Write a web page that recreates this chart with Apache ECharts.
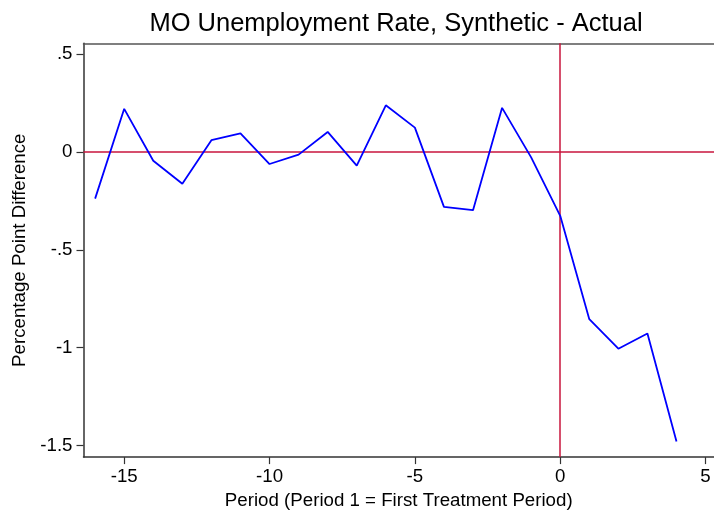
<!DOCTYPE html>
<html>
<head>
<meta charset="utf-8">
<script src="https://cdn.jsdelivr.net/npm/echarts@6/dist/echarts.min.js"></script>
<style>html,body{margin:0;padding:0;background:#fff;}#c{width:714px;height:515px;}</style>
</head>
<body>
<div id="c"></div>
<script>
const periods = [-16,-15,-14,-13,-12,-11,-10,-9,-8,-7,-6,-5,-4,-3,-2,-1,0,1,2,3,4];
const gapValues = [-0.238,0.221,-0.044,-0.162,0.061,0.095,-0.061,-0.013,0.103,-0.069,0.239,0.125,-0.280,-0.297,0.226,-0.027,-0.326,-0.854,-1.005,-0.927,-1.479];
const xTicks = [-15,-10,-5,0,5];
const yTicks = [0.5,0,-0.5,-1,-1.5];
const yTickLabels = ['.5','0','-.5','-1','-1.5'];
const titleText = 'MO Unemployment Rate, Synthetic - Actual';
const xTitle = 'Period (Period 1 = First Treatment Period)';
const yTitle = 'Percentage Point Difference';

const font = '"Liberation Sans", Arial, Helvetica, sans-serif';
const axisColor = '#333333';
const red = '#c8143c';

const chart = echarts.init(document.getElementById('c'), null, {renderer:'canvas'});
chart.setOption({
  animation: false,
  title: {
    text: titleText, left: 391, top: 6, textAlign: 'center',
    textStyle: {fontFamily: font, fontSize: 25.5, fontWeight: 'normal', color: '#000'}
  },
  grid: {left: 83.5, top: 43.3, right: 0, bottom: 54.3, containLabel: false},
  xAxis: [{
    type: 'value', min: -16.4, max: 5.29,
    name: xTitle, nameLocation: 'middle', nameGap: 30,
    nameTextStyle: {fontFamily: font, fontSize: 18.7, color: '#000'},
    axisLine: {show: true, onZero: false, lineStyle: {color: axisColor, width: 1.5}},
    axisTick: {show: true, customValues: xTicks, length: 7, lineStyle: {color: axisColor, width: 1.2}},
    axisLabel: {customValues: xTicks, fontFamily: font, fontSize: 18.7, color: '#000', margin: 10},
    splitLine: {show: false}
  }, {
    type: 'value', position: 'top', min: -16.4, max: 5.29,
    axisLine: {show: true, onZero: false, lineStyle: {color: '#555', width: 1.5}},
    axisTick: {show: false}, axisLabel: {show: false}, splitLine: {show: false}
  }],
  yAxis: {
    type: 'value', min: -1.559, max: 0.556,
    name: yTitle, nameLocation: 'middle', nameGap: 54, nameRotate: 90,
    nameTextStyle: {fontFamily: font, fontSize: 18.7, color: '#000'},
    axisLine: {show: true, onZero: false, lineStyle: {color: axisColor, width: 1.5}},
    axisTick: {show: true, customValues: yTicks, length: 7, lineStyle: {color: axisColor, width: 1.2}},
    axisLabel: {
      customValues: yTicks, fontFamily: font, fontSize: 18.7, color: '#000', margin: 11,
      formatter: function (v) { const i = yTicks.findIndex(t => Math.abs(t - v) < 1e-9); return i >= 0 ? yTickLabels[i] : ''; }
    },
    splitLine: {show: false}
  },
  series: [{
    type: 'line',
    data: periods.map((p, i) => [p, gapValues[i]]),
    showSymbol: false, symbol: 'none',
    lineStyle: {color: '#0000ff', width: 1.8},
    z: 3,
    markLine: {
      silent: true, symbol: 'none', label: {show: false},
      lineStyle: {color: red, width: 1.5, type: 'solid'},
      data: [{xAxis: 0}, {yAxis: 0}],
      z: 2
    }
  }]
});
</script>
</body>
</html>
